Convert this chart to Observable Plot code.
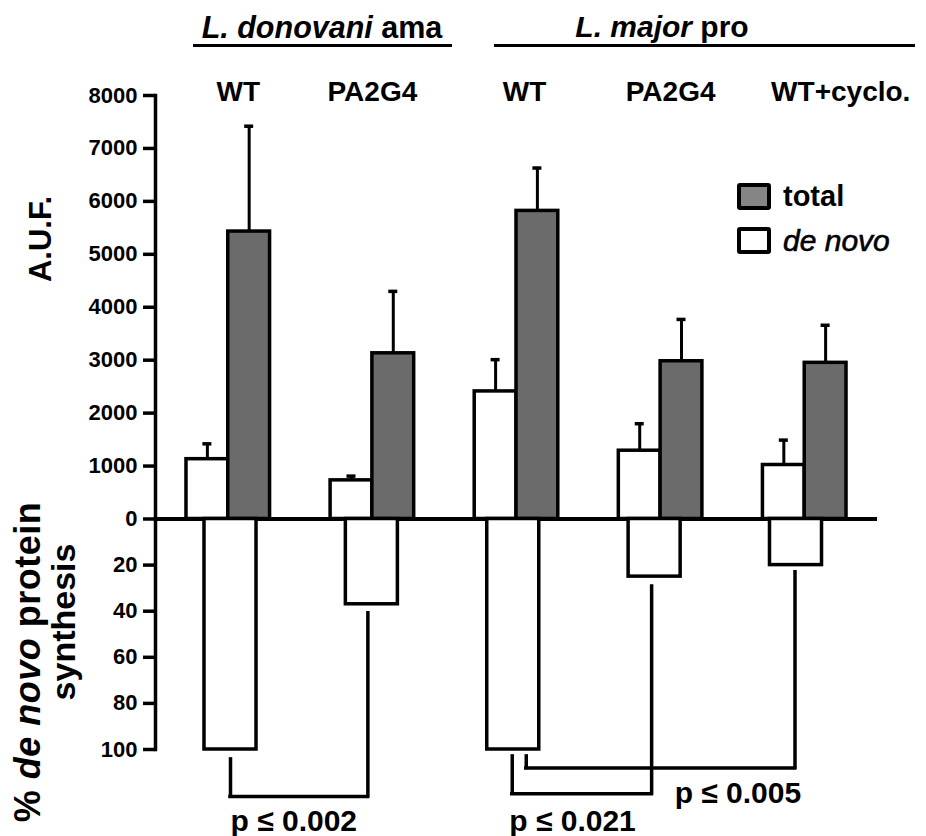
<!DOCTYPE html>
<html>
<head>
<meta charset="utf-8">
<script src="https://cdn.jsdelivr.net/npm/d3@7"></script>
<script src="https://cdn.jsdelivr.net/npm/@observablehq/plot@0.6"></script>
<style>
  html, body { margin: 0; padding: 0; background: #fff; }
  #chart { position: relative; width: 926px; height: 836px; overflow: hidden;
           font-family: "Liberation Sans", Arial, sans-serif; font-weight: bold; color: #000; }
  #chart svg { position: absolute; left: 0; top: 0; }
  .lbl { position: absolute; white-space: nowrap; line-height: 1; }
  .rule { position: absolute; background: #000; }
  .box { position: absolute; box-sizing: border-box; border: 4px solid #000; border-radius: 3px; }
</style>
</head>
<body>
<div id="chart"></div>
<script>
// ---------------- data ----------------
const groups = ["Ld WT", "Ld PA2G4", "Lm WT", "Lm PA2G4", "Lm WT+cyclo."];
const groupLabels = ["WT", "PA2G4", "WT", "PA2G4", "WT+cyclo."];
const deNovo = [1130, 730, 2410, 1290, 1020];
const deNovoErr = [290, 80, 600, 510, 470];
const total = [5430, 3130, 5820, 2980, 2950];
const totalErr = [1990, 1170, 810, 790, 710];
const pctDeNovo = [100, 37, 100, 25, 20];
const aufTicks = [0, 1000, 2000, 3000, 4000, 5000, 6000, 7000, 8000];
const pctTicks = [20, 40, 60, 80, 100];
const comparisons = [
  {from: "Ld WT", to: "Ld PA2G4", label: "p ≤ 0.002"},
  {from: "Lm WT", to: "Lm PA2G4", label: "p ≤ 0.021"},
  {from: "Lm WT", to: "Lm WT+cyclo.", label: "p ≤ 0.005"}
];

// ---------------- layout ----------------
const W = 926, H = 836;
const AX = 155, TOP = 95, ZERO = 518.5, BOTTOM = 749;
const UP_RIGHT = 877, LOW_RIGHT = 870.5;
const SW = 3.5, TICK = 12;
const FONT = "Liberation Sans, Arial, sans-serif";
const upPad = {paddingInner: 0.42, paddingOuter: 0.215};
const lowPad = {paddingInner: 0.632, paddingOuter: 0.3465};
const bw = d3.scaleBand().domain(groups).range([AX, UP_RIGHT])
  .paddingInner(upPad.paddingInner).paddingOuter(upPad.paddingOuter).bandwidth();
const lbw = d3.scaleBand().domain(groups).range([AX, LOW_RIGHT])
  .paddingInner(lowPad.paddingInner).paddingOuter(lowPad.paddingOuter).bandwidth();

const rows = groups.map((g, i) => ({
  group: g, label: groupLabels[i],
  denovo: deNovo[i], denovoTop: deNovo[i] + deNovoErr[i],
  total: total[i], totalTop: total[i] + totalErr[i],
  pct: pctDeNovo[i]
}));

const subLabelDx = [10, 0, 8, 10, 36];
const capW = 9;

// bracket geometry (in % units of the lower scale) and pixel nudges
const bracketGeom = [
  {top1: 104.3, bar: 120.4, top2: 40.9, dx1: 0, dx2: -4, labelAt: "from", labelY: 131.2, labelDx: 0},
  {top1: 103.0, bar: 119.2, top2: 29.3, dx1: -1, dx2: -3, labelAt: "from", labelY: 131.2, labelDx: -4},
  {top1: 103.0, bar: 108.0, top2: 23.1, dx1: 13, dx2: -1, labelAt: "midTo", labelY: 119.2, labelDx: 20}
];

// y-axis: thick tick rules + bold labels
function yAxis(ticks, right) {
  return [
    Plot.ruleY(ticks, {insetLeft: -TICK, insetRight: right - AX, strokeWidth: SW}),
    Plot.axisY({ticks, tickFormat: d => String(d), tickSize: 0, tickPadding: TICK + 6,
                fontSize: 22, fontWeight: "bold", label: null}),
    Plot.frame({anchor: "left", strokeWidth: SW})
  ];
}

// ---------------- upper plot (A.U.F.) ----------------
const upper = Plot.plot({
  width: W, height: H,
  marginTop: TOP, marginBottom: H - ZERO, marginLeft: AX, marginRight: W - UP_RIGHT,
  style: {background: "transparent", fontFamily: FONT, fontWeight: "bold", overflow: "visible"},
  x: {type: "band", domain: groups, range: [AX, UP_RIGHT], ...upPad, round: false, axis: null},
  y: {domain: [0, 8000], axis: null},
  marks: [
    Plot.ruleX(rows, {x: "group", y1: "denovo", y2: "denovoTop", dx: -bw / 4, strokeWidth: 3}),
    Plot.ruleX(rows, {x: "group", y1: "total", y2: "totalTop", dx: bw / 4, strokeWidth: 3}),
    Plot.tickY(rows, {x: "group", y: "denovoTop", insetLeft: bw / 4 - capW / 2, insetRight: 3 * bw / 4 - capW / 2, strokeWidth: 3.5}),
    Plot.tickY(rows, {x: "group", y: "totalTop", insetLeft: 3 * bw / 4 - capW / 2, insetRight: bw / 4 - capW / 2, strokeWidth: 3.5}),
    Plot.barY(rows, {x: "group", y: "denovo", fill: "white", stroke: "black", strokeWidth: SW, insetRight: bw / 2}),
    Plot.barY(rows, {x: "group", y: "total", fill: "#6b6b6b", stroke: "black", strokeWidth: SW, insetLeft: bw / 2}),
    Plot.ruleY([0], {strokeWidth: 4}),
    ...yAxis(aufTicks, UP_RIGHT),
    ...rows.map((r, i) => Plot.text([r], {x: "group", text: "label", frameAnchor: "top", dy: -14,
                 dx: subLabelDx[i], fontSize: 28, fontWeight: "bold"}))
  ]
});

// ---------------- lower plot (% de novo) ----------------
const bracketMarks = comparisons.flatMap((c, i) => {
  const g = bracketGeom[i];
  const ls = {strokeWidth: SW, strokeLinecap: "square"};
  const labelX = g.labelAt === "from" ? "from" : (d => groups[groups.indexOf(d.to) - 1]);
  return [
    Plot.ruleX([c], {x: "from", y1: g.top1, y2: g.bar, dx: g.dx1, ...ls}),
    Plot.ruleX([c], {x: "to", y1: g.bar, y2: g.top2, dx: g.dx2, ...ls}),
    Plot.ruleY([c], {x1: "from", x2: "to", y: g.bar, insetLeft: lbw / 2 + g.dx1, insetRight: lbw / 2 - g.dx2, ...ls}),
    Plot.text([c], {x: labelX, y: g.labelY, text: "label", textAnchor: "start", dx: g.labelDx,
                    fontSize: 30, fontWeight: "bold"})
  ];
});

const lower = Plot.plot({
  width: W, height: H,
  marginTop: ZERO, marginBottom: H - BOTTOM, marginLeft: AX, marginRight: W - LOW_RIGHT,
  style: {background: "transparent", fontFamily: FONT, fontWeight: "bold", overflow: "visible"},
  x: {type: "band", domain: groups, range: [AX, LOW_RIGHT], ...lowPad, round: false, axis: null},
  y: {domain: [0, 100], reverse: true, axis: null},
  marks: [
    Plot.barY(rows, {x: "group", y1: 0, y2: "pct", fill: "white", stroke: "black", strokeWidth: SW}),
    ...yAxis(pctTicks, LOW_RIGHT),
    ...bracketMarks
  ]
});

const chart = document.getElementById("chart");
chart.append(upper, lower);

// ---------------- titles, headers, legend ----------------
const overlay = `
  <div class="lbl" style="left:322px;top:11.5px;font-size:30.5px;transform:translateX(-50%)"><i>L. donovani</i> ama</div>
  <div class="rule" style="left:193px;top:43.5px;width:259px;height:3.5px"></div>
  <div class="lbl" style="left:662px;top:11.5px;font-size:30px;transform:translateX(-50%)"><i>L. major</i> pro</div>
  <div class="rule" style="left:494px;top:43.5px;width:421px;height:3.5px"></div>

  <div class="box" style="left:737px;top:183px;width:34px;height:27px;background:#858585"></div>
  <div class="lbl" style="left:783px;top:182px;font-size:29px">total</div>
  <div class="box" style="left:737px;top:227px;width:34px;height:27px;background:#fff"></div>
  <div class="lbl" style="left:783px;top:226px;font-size:30px;font-style:italic;font-weight:normal;-webkit-text-stroke:0.6px #000">de novo</div>

  <div class="lbl" style="left:40px;top:239px;font-size:31px;transform:translate(-50%,-50%) rotate(-90deg)">A.U.F.</div>
  <div class="lbl" style="left:28px;top:662px;font-size:36px;letter-spacing:0.5px;transform:translate(-50%,-50%) rotate(-90deg)">% <i>de novo</i> protein</div>
  <div class="lbl" style="left:63px;top:622px;font-size:34px;transform:translate(-50%,-50%) rotate(-90deg)">synthesis</div>
`;
chart.insertAdjacentHTML("beforeend", overlay);
</script>
</body>
</html>
